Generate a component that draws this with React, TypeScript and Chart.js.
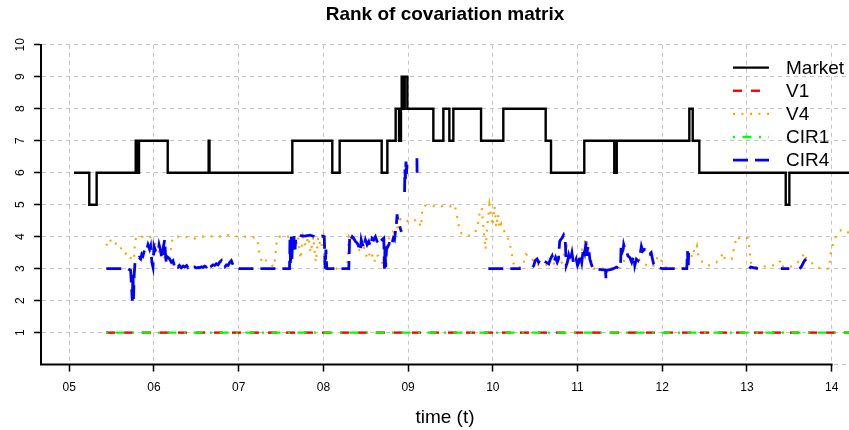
import React, { useEffect, useRef } from "react";
import { Chart, registerables } from "chart.js";

Chart.register(...registerables);

const FONT = '"Liberation Sans", Arial, Helvetica, sans-serif';

const chartTitle = "Rank of covariation matrix";
const xTitle = "time (t)";
const seriesLabels = ["Market", "V1", "V4", "CIR1", "CIR4"];
const seriesColors = ["#000000", "#ff0000", "#ffa500", "#00ff00", "#0000ff"];

const xTicks = [5, 6, 7, 8, 9, 10, 11, 12, 13, 14];
const xTickLabels = ["05", "06", "07", "08", "09", "10", "11", "12", "13", "14"];
const yTicks = [0, 1, 2, 3, 4, 5, 6, 7, 8, 9, 10];

// Market: change points of the step function (value becomes V at time T)
const marketT = [5.055, 5.236, 5.323, 5.784, 5.805, 5.823, 6.162, 6.645, 6.655, 7.633,
  8.105, 8.192, 8.688, 8.755, 8.853, 8.893, 8.916, 8.924, 8.930, 8.936,
  8.942, 8.948, 8.954, 8.960, 8.991, 9.298, 9.416, 9.487, 9.534, 9.861,
  10.124, 10.624, 10.687, 11.080, 11.434, 11.463, 12.320, 12.360, 12.438, 13.458,
  13.501, 14.3];
const marketV = [6, 5, 6, 7, 6, 7, 6, 7, 6, 7,
  6, 7, 6, 7, 8, 7, 8, 9, 8, 9,
  8, 9, 8, 9, 8, 7, 8, 7, 8, 7,
  8, 7, 6, 7, 6, 7, 8, 7, 6, 5,
  6, 6];

const v1T = [5.433, 14.3];
const v1V = [1, 1];
const cir1T = [5.433, 14.3];
const cir1V = [1, 1];

const v4T = [
  5.437, 5.455, 5.476, 5.50, 5.535, 5.555, 5.575, 5.60, 5.63, 5.65,
  5.67, 5.69, 5.71, 5.73, 5.75, 5.765, 5.776, 5.79, 5.85, 5.9,
  5.95, 5.985, 6.0, 6.03, 6.06, 6.09, 6.12, 6.15, 6.18, 6.2,
  6.22, 6.25, 6.35, 6.4, 6.45, 6.5, 6.55, 6.65, 6.72, 6.8,
  6.88, 6.95, 7.0, 7.07, 7.1, 7.2, 7.22, 7.24, 7.26, 7.29,
  7.31, 7.34, 7.38, 7.41, 7.43, 7.45, 7.48, 7.6, 7.62, 7.64,
  7.67, 7.70, 7.73, 7.76, 7.79, 7.82, 7.85, 7.88, 7.91, 7.94,
  7.97, 8.0, 8.03, 8.28, 8.3, 8.34, 8.37, 8.40, 8.44, 8.48,
  8.52, 8.56, 8.6, 8.63, 8.67, 8.72, 8.76, 8.79, 8.82, 8.85,
  8.88, 8.91, 8.94, 8.97, 9.0, 9.03, 9.06, 9.10, 9.13, 9.15,
  9.17, 9.2, 9.25, 9.3, 9.35, 9.4, 9.45, 9.5, 9.55, 9.57,
  9.59, 9.61, 9.63, 9.66, 9.70, 9.74, 9.78, 9.815, 9.835, 9.854,
  9.87, 9.88, 9.895, 9.905, 9.915, 9.93, 9.945, 9.96, 9.975, 9.99,
  10.0, 10.02, 10.04, 10.06, 10.08, 10.1, 10.13, 10.17, 10.2, 10.22,
  10.24, 10.26, 10.35, 10.39, 10.42, 10.46, 10.49, 10.55, 10.6, 10.65,
  10.7, 10.76, 10.82, 10.86, 10.88, 10.91, 10.94, 10.98, 11.03, 11.07,
  11.1, 11.13, 11.16, 11.19, 11.3, 11.5, 11.56, 11.6, 11.66, 11.72,
  11.78, 11.83, 11.89, 11.93, 11.96, 11.99, 12.02, 12.1, 12.25, 12.31,
  12.345, 12.36, 12.39, 12.41, 12.43, 12.46, 12.5, 12.55, 12.6, 12.64,
  12.68, 12.72, 12.74, 12.78, 12.82, 12.855, 12.88, 12.9, 12.95, 13.01,
  13.03, 13.04, 13.06, 13.15, 13.25, 13.3, 13.36, 13.40, 13.43, 13.5,
  13.56, 13.6, 13.64, 13.68, 13.7, 13.74, 13.78, 13.83, 13.87, 13.97,
  13.99, 14.01, 14.03, 14.07, 14.11, 14.14, 14.17, 14.2, 14.25];
const v4V = [
  3.72, 3.85, 3.93, 3.8, 3.85, 3.75, 3.7, 3.72, 3.5, 3.45,
  3.47, 3.42, 3.45, 3.3, 3.25, 3.35, 3.8, 4.0, 4.0, 3.98,
  4.0, 3.9, 3.8, 3.75, 3.5, 3.45, 3.35, 3.4, 3.3, 3.6,
  3.95, 4.0, 4.0, 3.98, 3.93, 3.95, 4.0, 4.0, 4.02, 4.0,
  4.05, 4.02, 4.0, 4.0, 3.98, 3.98, 3.9, 3.55, 3.3, 3.2,
  3.3, 3.2, 3.15, 3.05, 3.3, 3.95, 4.0, 4.0, 3.4, 4.0,
  3.6, 4.0, 3.3, 4.0, 3.7, 4.0, 3.5, 4.0, 3.2, 4.0,
  3.65, 4.0, 3.0, 3.0, 4.0, 3.85, 4.0, 3.7, 3.5, 3.65,
  3.3, 3.55, 3.2, 3.45, 3.3, 3.05, 3.9, 4.0, 4.15, 4.1,
  4.35, 4.55, 4.5, 4.45, 4.5, 4.52, 4.48, 4.55, 4.45, 4.3,
  4.9, 4.97, 4.95, 4.96, 4.93, 4.95, 4.98, 4.95, 5.0, 4.75,
  4.45, 4.2, 4.1, 4.05, 4.02, 4.05, 4.1, 4.25, 4.6, 4.85,
  4.9, 4.55, 4.15, 3.85, 3.6, 4.2, 4.6, 5.0, 4.75, 4.5,
  4.35, 4.95, 4.3, 4.7, 4.25, 4.4, 4.2, 4.0, 3.8, 3.5,
  3.2, 3.05, 3.05, 3.45, 3.42, 3.35, 3.15, 3.1, 3.15, 3.1,
  3.18, 3.12, 3.2, 3.65, 3.7, 3.45, 3.3, 3.2, 3.35, 3.75,
  3.93, 3.6, 3.25, 3.0, 3.0, 3.02, 3.3, 3.32, 3.28, 3.3,
  3.15, 3.1, 3.05, 3.3, 3.4, 3.25, 3.05, 3.0, 3.0, 3.1,
  3.35, 3.6, 3.5, 3.7, 3.35, 3.25, 3.12, 3.1, 3.15, 3.2,
  3.3, 3.5, 3.3, 3.28, 3.3, 3.75, 4.0, 3.95, 4.0, 3.95,
  3.65, 3.3, 3.05, 3.05, 3.08, 3.1, 3.12, 3.27, 3.05, 3.05,
  3.1, 3.2, 3.3, 3.5, 3.3, 3.25, 3.15, 3.05, 3.0, 3.0,
  3.5, 3.7, 3.9, 4.1, 4.2, 4.15, 4.1, 4.15, 4.2];

const cir4T = [
  5.437, 5.69, 5.724, 5.744, 5.752, 5.758, 5.766, 5.776, 5.803, 5.823,
  5.843, 5.856, 5.870, 5.890, 5.909, 5.929, 5.949, 5.96, 5.975, 5.988,
  6.0, 6.02, 6.047, 6.06, 6.075, 6.09, 6.098, 6.112, 6.126, 6.137,
  6.146, 6.165, 6.185, 6.205, 6.224, 6.244, 6.262, 6.283, 6.3, 6.323,
  6.345, 6.362, 6.385, 6.402, 6.42, 6.441, 6.46, 6.48, 6.5, 6.52,
  6.54, 6.559, 6.578, 6.598, 6.62, 6.638, 6.657, 6.677, 6.697, 6.717,
  6.735, 6.756, 6.775, 6.795, 6.81, 6.835, 6.855, 6.874, 6.895, 6.913,
  6.935, 6.953, 6.98, 7.012, 7.3, 7.6, 7.605, 7.612, 7.62, 7.628,
  7.637, 7.645, 7.655, 7.665, 7.675, 7.72, 7.78, 7.84, 7.9, 7.98,
  8.01, 8.02, 8.03, 8.04, 8.3, 8.31, 8.319, 8.34, 8.358, 8.378,
  8.398, 8.417, 8.437, 8.447, 8.457, 8.476, 8.496, 8.516, 8.535, 8.555,
  8.575, 8.594, 8.614, 8.634, 8.654, 8.674, 8.693, 8.713, 8.72, 8.728,
  8.735, 8.745, 8.772, 8.791, 8.811, 8.825, 8.839, 8.85, 8.862, 8.87,
  8.878, 8.894, 8.909, 8.921, 8.935, 8.958, 8.962, 8.968, 8.975, 8.98,
  8.985, 9.0, 9.104, 9.106, 9.12, 9.947, 10.33, 10.4, 10.47, 10.484,
  10.50, 10.523, 10.54, 10.56, 10.582, 10.6, 10.66, 10.68, 10.70, 10.719,
  10.74, 10.76, 10.775, 10.789, 10.80, 10.816, 10.836, 10.855, 10.867, 10.88,
  10.895, 10.91, 10.934, 10.953, 10.97, 10.984, 11.0, 11.015, 11.031, 11.05,
  11.07, 11.085, 11.102, 11.11, 11.117, 11.13, 11.145, 11.168, 11.19, 11.25,
  11.31, 11.33, 11.336, 11.342, 11.40, 11.422, 11.46, 11.49, 11.508, 11.515,
  11.525, 11.539, 11.545, 11.56, 11.578, 11.595, 11.617, 11.64, 11.664, 11.676,
  11.695, 11.715, 11.734, 11.754, 11.77, 11.79, 11.8125, 11.83, 11.852, 11.87,
  11.885, 11.898, 11.915, 11.93, 12.0, 12.29, 12.298, 12.306, 12.312, 12.33,
  13.03, 13.045, 13.13, 13.2, 13.40, 13.50, 13.55, 13.62, 13.64, 13.659,
  13.68, 13.698];
const cir4V = [
  3.0, 3.0, 2.95, 2.0, 2.9, 2.05, 2.8, 3.2, 3.3, 3.35,
  3.3, 3.45, 3.4, 3.6, 3.55, 3.75, 3.6, 3.7, 3.2, 3.05,
  3.7, 3.55, 3.5, 3.75, 3.6, 3.35, 3.3, 3.7, 3.9, 3.4,
  3.15, 3.35, 3.3, 3.2, 3.25, 3.05, 3.12, 3.05, 3.1, 3.03,
  3.08, 3.05, 3.1, 3.03, 3.06, 3.0, 3.04, 3.05, 3.02, 3.04,
  3.03, 3.06, 3.04, 3.08, 3.05, 3.1, 3.18, 3.08, 3.12, 3.1,
  3.15, 3.12, 3.2, 3.25, 3.1, 3.05, 3.12, 3.1, 3.2, 3.25,
  3.1, 3.05, 3.03, 3.0, 3.0, 3.0, 3.9, 3.1, 4.0, 3.3,
  4.0, 3.5, 4.02, 3.6, 4.0, 4.03, 4.02, 4.05, 4.0, 4.02,
  4.0, 3.0, 3.6, 3.0, 3.0, 4.0, 3.9, 4.0, 3.95, 3.85,
  3.8, 3.7, 3.55, 3.9, 3.8, 3.65, 3.9, 3.75, 3.85, 3.7,
  3.95, 3.9, 4.0, 3.85, 3.8, 3.95, 3.9, 3.95, 3.0, 3.7,
  3.05, 3.6, 3.75, 3.9, 3.8, 3.95, 3.9, 4.15, 4.4, 4.7,
  4.5, 4.4, 4.25, 4.15, null, 5.4, 6.1, 5.8, 6.35, 5.9,
  6.25, null, 6.45, 6.0, null, 3.0, 3.0, null, 3.05, 3.1,
  3.25, 3.3, 3.2, 3.3, 3.3, 3.25, 3.15, 3.3, 3.4, 3.2,
  3.35, 3.2, 3.3, 3.85, 3.9, 3.95, 4.05, 3.9, 3.1, 3.2,
  3.4, 3.2, 3.5, 3.15, 3.2, 3.3, 3.1, 3.2, 3.45, 3.2,
  3.65, 3.5, 3.85, 3.4, 3.6, 3.7, 3.3, 3.1, 3.0, 2.98,
  2.96, 2.95, 2.68, 2.95, 2.98, 3.0, 3.05, 3.0, 3.1, 3.75,
  3.5, 3.6, 3.75, 3.6, 3.55, 3.4, 3.35, 3.2, 3.4, 3.1,
  3.3, 3.25, 3.35, 3.7, 3.55, 3.6, 3.6, 3.45, 3.45, 3.5,
  3.3, 3.15, 3.1, 3.05, 3.0, 3.0, 3.55, 3.0, 3.5, null,
  3.0, 3.05, 3.0, null, 3.0, 3.0, null, 3.0, 3.05, 3.15,
  3.25, 3.3];

function zip(t: number[], v: (number | null)[]) {
  const n = Math.min(t.length, v.length);
  const out: { x: number; y: number | null }[] = [];
  for (let i = 0; i < n; i++) out.push({ x: t[i], y: v[i] });
  return out;
}

// legend layout (pixels)
const LEG_X0 = 733;
const LEG_X1 = 769;
const LEG_TX = 786;
const LEG_Y0 = 67.6;
const LEG_STEP = 23.15;

const overlayPlugin = {
  id: "overlay",
  afterDraw(chart: any) {
    const { ctx, chartArea, scales } = chart;
    const xs = scales.x;
    ctx.save();
    // bottom axis line from plot left to last tick
    ctx.setLineDash([]);
    ctx.strokeStyle = "#000";
    ctx.lineWidth = 2;
    ctx.beginPath();
    ctx.moveTo(chartArea.left - 1, chartArea.bottom);
    ctx.lineTo(xs.getPixelForValue(xTicks[xTicks.length - 1]) + 1, chartArea.bottom);
    ctx.stroke();
    // legend
    chart.data.datasets.forEach((ds: any, i: number) => {
      const y = LEG_Y0 + i * LEG_STEP;
      ctx.strokeStyle = ds.borderColor;
      ctx.lineWidth = ds.borderWidth;
      ctx.setLineDash(ds.borderDash || []);
      ctx.beginPath();
      ctx.moveTo(LEG_X0, y);
      ctx.lineTo(LEG_X1, y);
      ctx.stroke();
      ctx.setLineDash([]);
      ctx.fillStyle = "#000";
      ctx.font = `19px ${FONT}`;
      ctx.textAlign = "left";
      ctx.textBaseline = "middle";
      ctx.fillText(ds.label, LEG_TX, y + 1);
    });
    ctx.restore();
  },
};

export default function App() {
  const ref = useRef<HTMLCanvasElement>(null);
  useEffect(() => {
    document.body.style.margin = "0";
    Chart.defaults.font.family = FONT;
    const gridColor = "#c4c4c4";
    const chart = new Chart(ref.current as HTMLCanvasElement, {
      type: "line",
      data: {
        datasets: [
          {
            label: seriesLabels[0],
            data: zip(marketT, marketV),
            borderColor: seriesColors[0],
            borderWidth: 2.4,
            stepped: "before",
            pointRadius: 0,
            order: 5,
          },
          {
            label: seriesLabels[1],
            data: zip(v1T, v1V),
            borderColor: seriesColors[1],
            borderWidth: 2.4,
            borderDash: [9, 9],
            pointRadius: 0,
            order: 4,
          },
          {
            label: seriesLabels[2],
            data: zip(v4T, v4V),
            borderColor: seriesColors[2],
            borderWidth: 2.2,
            borderDash: [2, 6.5],
            pointRadius: 0,
            order: 3,
          },
          {
            label: seriesLabels[3],
            data: zip(cir1T, cir1V),
            borderColor: seriesColors[3],
            borderWidth: 2.4,
            borderDash: [2, 7.5, 9, 7.5],
            pointRadius: 0,
            order: 2,
          },
          {
            label: seriesLabels[4],
            data: zip(cir4T, cir4V),
            borderColor: seriesColors[4],
            borderWidth: 2.8,
            borderDash: [15, 7],
            pointRadius: 0,
            spanGaps: false,
            order: 1,
          },
        ] as any,
      },
      options: {
        responsive: false,
        animation: false,
        devicePixelRatio: 1,
        events: [],
        elements: { line: { tension: 0 } },
        layout: { padding: 0 },
        plugins: {
          legend: { display: false },
          tooltip: { enabled: false },
          title: {
            display: true,
            text: chartTitle,
            color: "#000",
            font: { size: 19, weight: "bold", family: FONT },
            padding: { top: 3, bottom: 19 },
            fullSize: false,
          },
        },
        scales: {
          x: {
            type: "linear",
            min: 4.666,
            max: 14.205,
            z: 1,
            afterBuildTicks: (s: any) => {
              s.ticks = xTicks.map((v) => ({ value: v }));
            },
            afterFit: (s: any) => {
              s.height = 65.4;
            },
            ticks: {
              autoSkip: false,
              maxRotation: 0,
              minRotation: 0,
              padding: 9,
              color: "#000",
              font: { size: 12, family: FONT },
              callback: (v: any) => {
                const i = xTicks.indexOf(Number(v));
                return i >= 0 ? xTickLabels[i] : "";
              },
            },
            grid: {
              color: gridColor,
              lineWidth: 1,
              tickLength: 7,
              tickColor: "#000",
              tickWidth: 1.5,
              tickBorderDash: [],
            },
            border: { display: false, dash: [4, 4] },
            title: {
              display: true,
              text: xTitle,
              color: "#000",
              font: { size: 19, family: FONT },
              padding: { top: 0, bottom: 1 },
            },
          },
          y: {
            type: "linear",
            min: 0,
            max: 10,
            z: 1,
            afterBuildTicks: (s: any) => {
              s.ticks = yTicks.map((v) => ({ value: v }));
            },
            afterFit: (s: any) => {
              s.width = 41;
            },
            ticks: {
              minRotation: 90,
              maxRotation: 90,
              crossAlign: "center",
              padding: 7,
              color: "#000",
              font: { size: 12, family: FONT },
              callback: (v: any) => (Number(v) === 0 ? "" : String(v)),
            },
            grid: {
              color: gridColor,
              lineWidth: 1,
              tickLength: 7,
              tickColor: (c: any) => (c.tick && c.tick.value === 0 ? "rgba(0,0,0,0)" : "#000"),
              tickWidth: 1.5,
              tickBorderDash: [],
            },
            border: { display: true, color: "#000", width: 2, dash: [4, 4] },
          },
        },
      } as any,
      plugins: [overlayPlugin],
    });
    return () => chart.destroy();
  }, []);
  return (
    <div style={{ width: 849, height: 430 }}>
      <canvas ref={ref} width={849} height={430} style={{ display: "block" }} />
    </div>
  );
}
